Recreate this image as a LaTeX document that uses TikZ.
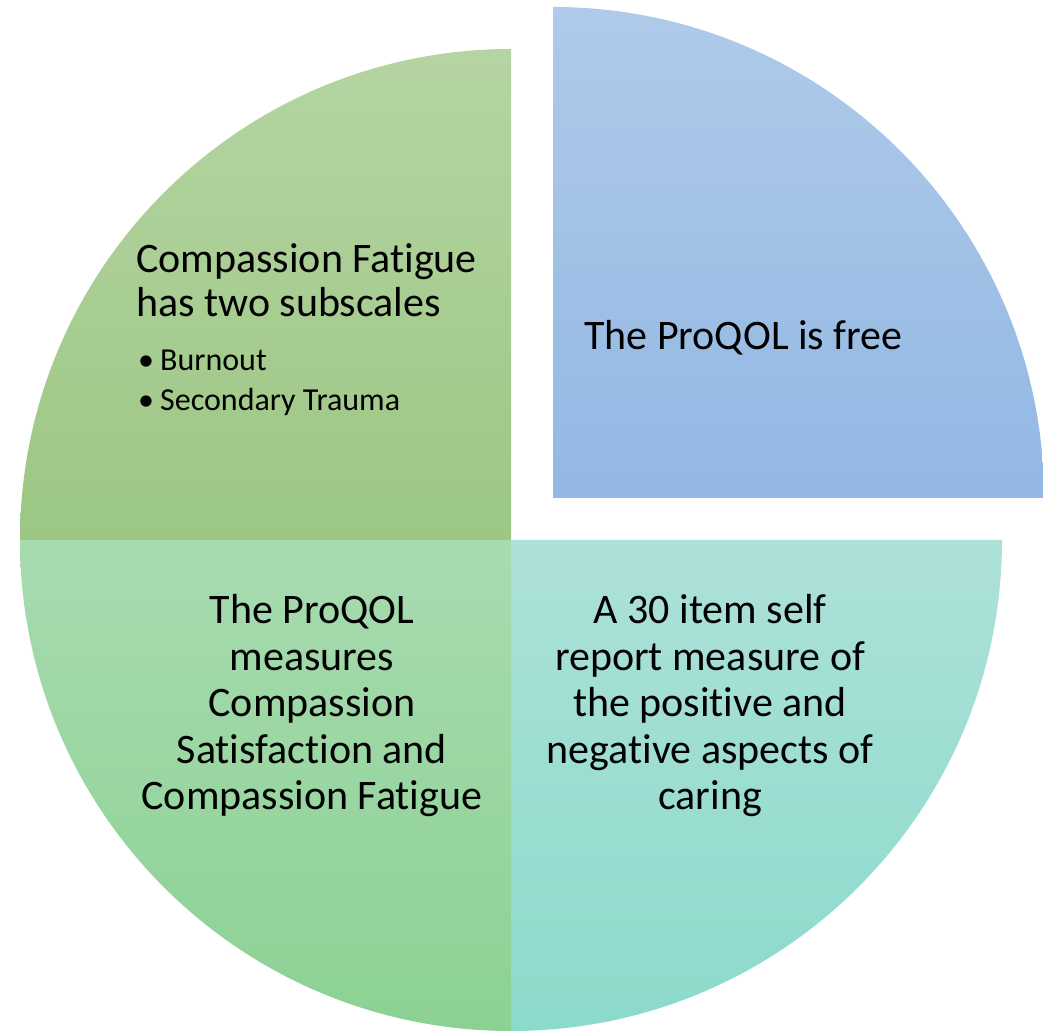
\documentclass[tikz,border=0pt]{standalone}
\usepackage{fontspec}
\setmainfont[Ligatures={NoCommon,NoRare,NoContextual,NoRequired}]{Carlito}
\usetikzlibrary{positioning}

\definecolor{greenTop}{HTML}{B5D4A2}
\definecolor{greenBot}{HTML}{9CC783}
\definecolor{blueTop}{HTML}{AFCAEA}
\definecolor{blueBot}{HTML}{92B8E3}
\definecolor{mintTop}{HTML}{A7DBB0}
\definecolor{mintBot}{HTML}{8CD193}
\definecolor{tealTop}{HTML}{ADE1D9}
\definecolor{tealBot}{HTML}{8BDACB}

\tikzset{
    slicetext/.style={inner sep=0pt, align=center, font=\fontsize{42}{46.5}\selectfont},
    subtext/.style={inner sep=0pt, align=left, font=\fontsize{32}{40}\selectfont}
}

\newcommand{\bulletitem}[1]{\makebox[22pt][l]{\textbullet}#1}
% plain t and i, no ligature
\newcommand{\tisep}{t\kern0pt i}

\begin{document}
\begin{tikzpicture}[x=1pt, y=1pt]
        \useasboundingbox (0,0) rectangle (1043,1030);

        % Quarters of the pie
        \shade[top color=greenTop, bottom color=greenBot]
            (511,490) -- ++(0,491) arc[start angle=90, end angle=180, radius=491] -- cycle;
        \shade[top color=blueTop, bottom color=blueBot]
            (553,532) -- ++(491,0) arc[start angle=0, end angle=90, radius=491] -- cycle;
        \shade[top color=mintTop, bottom color=mintBot]
            (511,490) -- ++(-491,0) arc[start angle=180, end angle=270, radius=491] -- cycle;
        \shade[top color=tealTop, bottom color=tealBot]
            (511,490) -- ++(0,-491) arc[start angle=270, end angle=360, radius=491] -- cycle;

        % Texts
        \node[slicetext, align=left, anchor=west, font=\fontsize{42}{44}\selectfont] (fatigue) at (136,750)
            {Compassion Fatigue\\has two subscales};
        \node[subtext, anchor=west] (subscales) at (138,647)
            {\bulletitem{Burnout}\\\bulletitem{Secondary Trauma}};
        \node[slicetext, anchor=west] (free) at (584,692) {The ProQOL is free};
        \node[slicetext] (measures) at (312,324)
            {The ProQOL\\measures\\Compassion\\Satisfac\tisep on and\\Compassion Fatigue};
        \node[slicetext] (items) at (710,324)
            {A 30 item self\\report measure of\\the posi\tisep ve and\\negative aspects of\\caring};
    \end{tikzpicture}
\end{document}
